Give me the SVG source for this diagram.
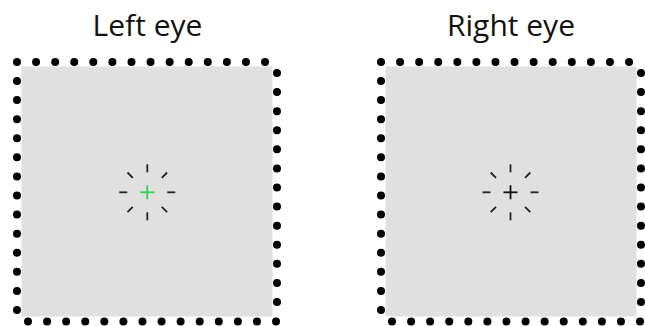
<svg xmlns="http://www.w3.org/2000/svg" xmlns:xlink="http://www.w3.org/1999/xlink" width="645" height="326" viewBox="0 0 645 326">
  <style>
    .title { font-family: "Open Sans", "Noto Sans", "Liberation Sans", sans-serif; font-size: 30px; fill: #111; text-anchor: middle; }
    .panel { fill: #e0e0e0; stroke: none; }
    .dots { fill: none; stroke: #000; stroke-width: 8; stroke-linecap: round; stroke-dasharray: 0 19.08; }
    .tick { stroke: #222; stroke-width: 1.8; stroke-linecap: butt; }
    .plus-green { stroke: #2fd251; stroke-width: 1.8; }
    .plus-black { stroke: #111; stroke-width: 1.8; }
  </style>
  <defs>
    <g id="frame">
      <rect class="panel" x="21.5" y="66.5" width="251" height="250"/>
      <path class="dots" d="M17 62 H266"/>
      <path class="dots" d="M277 73 V303"/>
      <path class="dots" d="M28 321.5 H277"/>
      <path class="dots" d="M17 81 V311"/>
    </g>
    <g id="ticks">
      <line class="tick" x1="0" y1="-20" x2="0" y2="-28"/>
      <line class="tick" x1="0" y1="20" x2="0" y2="28"/>
      <line class="tick" x1="-20" y1="0" x2="-28" y2="0"/>
      <line class="tick" x1="20" y1="0" x2="28" y2="0"/>
      <line class="tick" x1="-14.5" y1="-14.5" x2="-19.8" y2="-19.8"/>
      <line class="tick" x1="14.5" y1="-14.5" x2="19.8" y2="-19.8"/>
      <line class="tick" x1="-14.5" y1="14.5" x2="-19.8" y2="19.8"/>
      <line class="tick" x1="14.5" y1="14.5" x2="19.8" y2="19.8"/>
    </g>
  </defs>

  <g id="left-eye">
    <text class="title" x="147.5" y="36">Left eye</text>
    <use xlink:href="#frame"/>
    <g transform="translate(147.3 192.3)">
      <use xlink:href="#ticks"/>
      <line class="plus-green" x1="-7" y1="0" x2="7" y2="0"/>
      <line class="plus-green" x1="0" y1="-7" x2="0" y2="7"/>
    </g>
  </g>

  <g id="right-eye">
    <text class="title" x="511" y="36">Right eye</text>
    <use xlink:href="#frame" transform="translate(364 0)"/>
    <g transform="translate(510.5 192.3)">
      <use xlink:href="#ticks"/>
      <line class="plus-black" x1="-7" y1="0" x2="7" y2="0"/>
      <line class="plus-black" x1="0" y1="-7" x2="0" y2="7"/>
    </g>
  </g>
</svg>
